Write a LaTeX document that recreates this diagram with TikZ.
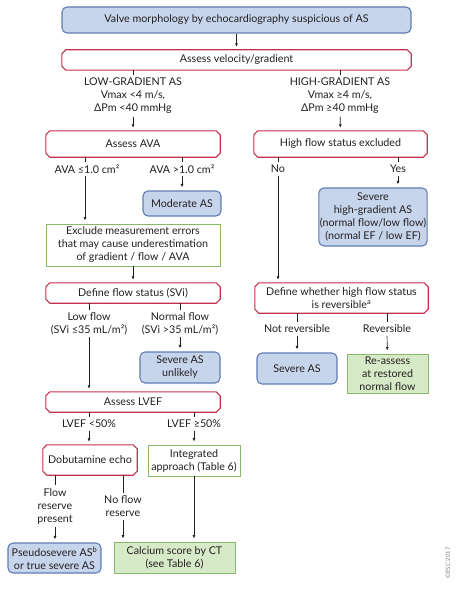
\documentclass[tikz,border=0pt]{standalone}
\usepackage{fontspec}
\setmainfont{Lato}
\usetikzlibrary{arrows.meta}
\definecolor{bluefill}{HTML}{C7D5EC}
\definecolor{blueline}{HTML}{5F7DB3}
\definecolor{redline}{HTML}{C4304C}
\definecolor{greenline}{HTML}{8AB86A}
\definecolor{greenfill}{HTML}{D7EAC8}
\definecolor{inkgray}{HTML}{231F20}
\tikzset{
  box/.style={align=center, inner sep=1pt, font=\fontsize{10.7}{13}\selectfont, text=inkgray},
  bluebox/.style={box, draw=blueline, fill=bluefill, line width=1.1pt, rounded corners=5pt},
  redbox/.style={box, append after command={\pgfextra{
      \draw[redline, line width=1.1pt]
      ([xshift=4pt]\tikzlastnode.north west) -- ([xshift=-4pt]\tikzlastnode.north east)
      -- ([yshift=-4pt]\tikzlastnode.north east) -- ([yshift=4pt]\tikzlastnode.south east)
      -- ([xshift=-4pt]\tikzlastnode.south east) -- ([xshift=4pt]\tikzlastnode.south west)
      -- ([yshift=4pt]\tikzlastnode.south west) -- ([yshift=-4pt]\tikzlastnode.north west) -- cycle;}}},
  greenbox/.style={box, draw=greenline, fill=white, line width=0.9pt},
  greenfillbox/.style={box, draw=greenline, fill=greenfill, line width=0.9pt},
  lbl/.style={box, inner sep=2.5pt},
  arr/.style={-{Latex[length=3.5pt,width=3pt]}, line width=0.7pt, inkgray, shorten >=3pt},
  tick/.style={line width=0.7pt, inkgray}
}
\begin{document}
\begin{tikzpicture}[x=1pt, y=-1pt]
  \useasboundingbox (0,0) rectangle (459,591);
  % top of the chart
  \node[bluebox, minimum width=349pt, minimum height=26pt] (valve) at (236.5,20) {Valve morphology by echocardiography suspicious of AS};
  \node[redbox, minimum width=349pt, minimum height=20pt] (velo) at (236.5,60) {Assess velocity/gradient};
  \node[lbl] (lowgr) at (133,96) {LOW-GRADIENT AS\\Vmax <4 m/s,\\ΔPm <40 mmHg};
  \node[lbl] (highgr) at (340,96) {HIGH-GRADIENT AS\\Vmax ≥4 m/s,\\ΔPm ≥40 mmHg};
  \draw[tick] (velo.south -| lowgr) -- (lowgr.north);
  \draw[tick] (velo.south -| highgr) -- (highgr.north);
  \draw[arr] (valve) -- (velo);
  % low-gradient branch
  \node[redbox, minimum width=174pt, minimum height=26pt] (ava) at (133,144) {Assess AVA};
  \node[lbl] (avale) at (87,169) {AVA ≤1.0 cm²};
  \node[lbl] (avagt) at (182,169) {AVA >1.0 cm²};
  \node[bluebox, minimum width=78pt, minimum height=25pt] (moderate) at (182,203.5) {Moderate AS};
  \node[greenbox, minimum width=174pt, minimum height=42pt] (exclude) at (133,245) {Exclude measurement errors\\that may cause underestimation\\of gradient / flow / AVA};
  \node[redbox, minimum width=174pt, minimum height=20pt] (flow) at (133,293) {Define flow status (SVi)};
  \node[lbl] (lowflow) at (89,323.5) {Low flow\\(SVi ≤35 mL/m²)};
  \node[lbl] (normflow) at (180,323.5) {Normal flow\\(SVi >35 mL/m²)};
  \node[bluebox, minimum width=80pt, minimum height=31pt] (unlikely) at (180,367.5) {Severe AS\\unlikely};
  \node[redbox, minimum width=174pt, minimum height=20pt] (lvef) at (133,402) {Assess LVEF};
  \node[lbl] (lvlt) at (89,424) {LVEF <50\%};
  \node[lbl] (lvge) at (194,424) {LVEF ≥50\%};
  \node[redbox, minimum width=94pt, minimum height=30pt] (dobut) at (90,460) {Dobutamine echo};
  \node[greenbox, minimum width=92pt, minimum height=31pt] (integ) at (194,460.5) {Integrated\\approach (Table 6)};
  \node[lbl] (flowres) at (55,506) {Flow\\reserve\\present};
  \node[lbl] (noflow) at (123,506.5) {No flow\\reserve};
  \node[bluebox, minimum width=93pt, minimum height=30pt] (pseudo) at (54.5,558) {Pseudosevere AS\textsuperscript{b}\\or true severe AS};
  \node[greenfillbox, minimum width=121pt, minimum height=31pt] (calcium) at (174.5,557.5) {Calcium score by CT\\(see Table 6)};
  % high-gradient branch
  \node[redbox, minimum width=173pt, minimum height=26pt] (hfse) at (340.5,144) {High flow status excluded};
  \node[lbl] (no) at (278,169) {No};
  \node[lbl] (yes) at (398,169) {Yes};
  \node[bluebox, minimum width=108pt, minimum height=58pt] (sevhigh) at (373,217) {Severe\\high-gradient AS\\(normal flow/low flow)\\(normal EF / low EF)};
  \node[redbox, minimum width=173pt, minimum height=30pt] (defrev) at (341.5,298) {Define whether high flow status\\is reversible\textsuperscript{a}};
  \node[lbl] (notrev) at (297,329) {Not reversible};
  \node[lbl] (rev) at (387,329) {Reversible};
  \node[bluebox, minimum width=80pt, minimum height=31pt] (sevas) at (297,368.5) {Severe AS};
  \node[greenfillbox, minimum width=81pt, minimum height=39pt] (reassess) at (387.5,373.5) {Re-assess\\at restored\\normal flow};
  \node[font=\fontsize{6}{7}\selectfont, text=gray, rotate=90, inner sep=0pt] (esc) at (448,563) {©ESC 2017};
  % connectors
  \draw[arr] (lowgr) -- (ava);
  \draw[arr] (highgr) -- (hfse);
  \draw[tick] (ava.south -| 85,0) -- (avale.north -| 85,0);
  \draw[arr] (avale.south -| 85,0) -- (exclude.north -| 85,0);
  \draw[tick] (ava.south -| avagt) -- (avagt.north);
  \draw[arr] (avagt) -- (moderate);
  \draw[arr] (exclude) -- (flow);
  \draw[tick] (flow.south -| lowflow) -- (lowflow.north);
  \draw[arr] (lowflow.south) -- (lowflow.south |- lvef.north);
  \draw[tick] (flow.south -| normflow) -- (normflow.north);
  \draw[arr] (normflow) -- (unlikely);
  \draw[tick] (lvef.south -| lvlt) -- (lvlt.north);
  \draw[arr] (lvlt.south) -- (lvlt.south |- dobut.north);
  \draw[tick] (lvef.south -| lvge) -- (lvge.north);
  \draw[arr] (lvge) -- (integ);
  \draw[tick] (dobut.south -| flowres) -- (flowres.north);
  \draw[arr] (flowres.south) -- (flowres.south |- pseudo.north);
  \draw[tick] (dobut.south -| noflow) -- (noflow.north);
  \draw[arr] (noflow.south) -- (noflow.south |- calcium.north);
  \draw[arr] (integ.south) -- (integ.south |- calcium.north);
  \draw[tick] (hfse.south -| no) -- (no.north);
  \draw[arr] (no.south) -- (no.south |- defrev.north);
  \draw[tick] (hfse.south -| yes) -- (yes.north);
  \draw[arr] (yes.south) -- (yes.south |- sevhigh.north);
  \draw[tick] (defrev.south -| notrev) -- (notrev.north);
  \draw[arr] (notrev) -- (sevas);
  \draw[tick] (defrev.south -| rev) -- (rev.north);
  \draw[arr] (rev) -- (reassess);
\end{tikzpicture}
\end{document}
